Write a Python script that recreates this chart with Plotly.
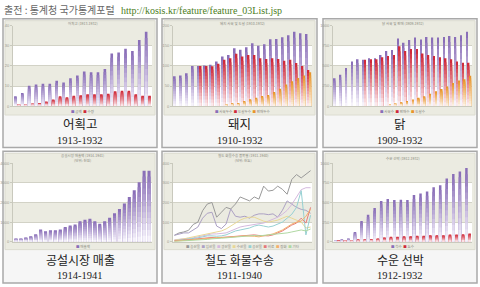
import plotly.graph_objects as go

W, H = 480, 287

# ---------------- data ----------------
# 1) 어획고 1913-1932
fish_years = list(range(1913, 1933))
fish_value = [4.9, 6.6, 10.2, 10.7, 11.1, 11.1, 12.6, 11.8, 13.8, 15.2,
              17.2, 16.9, 16.9, 18.5, 26.2, 26.7, 28.5, 27.4, 32.8, 36.9]
fish_catch = [1.1, 1.1, 1.3, 1.6, 2.3, 3.3, 4.9, 4.4, 5.2, 5.4,
              5.9, 5.9, 5.9, 6.2, 7.4, 7.7, 7.7, 5.9, 5.2, 5.2]

# 2) 돼지 1910-1932
pig_years = list(range(1910, 1933))
pig_a = [74, 76, 82, 100, 100, 101, 103, 111, 123, 127, 144, 140, 146, 156,
         150, 154, 166, 167, 171, 176, 185, 181, 179]
pig_b = [None, None, None, None, 100, 100, 99, 105, 115, 119, 130, 123, 127,
         127, 119, 117, 119, 117, 113, 115, 107, 100, 90]
pig_c = [None, None, None, None, None, None, None, None, 4, 7, 8, 13, 17, 21,
         25, 28, 35, 43, 54, 62, 70, 76, 84]

# 3) 닭 1909-1932
hen_years = list(range(1909, 1933))
hen_a = [348, 390, 473, 553, 583, 575, 595, 595, 635, 685, 698, 840, 788, 820,
         853, 828, 860, 853, 853, 860, 870, 860, 880, 923]
hen_b = [None, None, None, None, None, 575, 583, 583, 608, 623, 635, 745, 685,
         710, 710, 655, 635, 623, 608, 595, 583, 553, 540, 540]
hen_c = [None, None, None, None, None, None, None, None, None, 20, 33, 50, 63,
         83, 103, 123, 155, 185, 213, 245, 288, 320, 335, 378]

# 4) 공설시장 매출 1914-1941
mkt_years = list(range(1914, 1942))
mkt_sales = [170, 170, 220, 280, 380, 630, 530, 580, 580, 630, 750, 830, 880,
             1050, 1120, 1170, 1050, 920, 1050, 1220, 1450, 1670, 1950, 2280,
             2620, 3030, 3620, 3620]

# 5) 철도 화물수송 1911-1940
rail_years = list(range(1911, 1941))
rail_names = ["농산물", "임산물", "광산물", "수산물", "공산물", "비료", "잡화", "기타"]
rail_colors = ["#999999", "#aca1c4", "#d4b9de", "#e8d896", "#96d0d2",
               "#e47a7a", "#f3b06c", "#b0d8a2"]
rail_1 = [33, 45, 50, 58, 88, 100, 158, 192, 200, 125, 150, 175, 167, 192, 228,
          217, 208, 228, 217, 283, 258, 262, 283, 267, 242, 317, 342, 325, 345, 362]
rail_2 = [33, 40, 45, 45, 60, 75, 120, 145, 150, 80, 67, 90, 167, 130, 125, 130,
          120, 135, 142, 142, 138, 142, 125, 160, 208, 190, 175, 165, 160, 145]
rail_3 = [10, 12, 15, 18, 20, 25, 30, 35, 40, 40, 42, 45, 55, 65, 75, 80, 85, 90,
          92, 95, 105, 115, 125, 140, 160, 190, 230, 265, 275, 275]
rail_4 = [8, 10, 15, 20, 25, 30, 35, 40, 45, 50, 55, 65, 80, 95, 110, 120, 125,
          125, 115, 105, 100, 105, 110, 120, 130, 120, 110, 100, 70, 75]
rail_5 = [5, 8, 10, 12, 15, 20, 25, 30, 30, 28, 30, 35, 45, 55, 60, 65, 70, 80,
          85, 80, 75, 80, 90, 100, 120, 140, 175, 260, 35, 135]
rail_6 = [5, 6, 8, 10, 12, 15, 18, 20, 22, 20, 22, 25, 28, 30, 30, 32, 35, 35,
          32, 30, 30, 35, 45, 55, 70, 85, 95, 120, 95, 175]
rail_7 = [3, 5, 6, 8, 10, 12, 15, 18, 20, 20, 22, 22, 25, 25, 28, 30, 30, 28,
          25, 30, 35, 40, 50, 60, 75, 90, 100, 105, 130, 165]
rail_8 = [2, 3, 4, 5, 6, 8, 10, 12, 15, 15, 18, 20, 22, 25, 28, 30, 30, 32, 30,
          32, 35, 38, 40, 42, 45, 50, 55, 60, 55, 65]
rail_series = [rail_1, rail_2, rail_3, rail_4, rail_5, rail_6, rail_7, rail_8]

# 6) 수운 선박 1912-1932
ship_years = list(range(1912, 1933))
ship_a = [20, 30, 43, 125, 263, 345, 430, 520, 543, 530, 533, 530, 595, 613,
          638, 695, 720, 805, 863, 895, 938]
ship_b = [13, 20, 20, 30, 30, 33, 43, 55, 63, 63, 70, 70, 75, 75, 83, 83, 83,
          93, 93, 95, 105]

captions = ["어획고", "돼지", "닭", "공설시장 매출", "철도 화물수송", "수운 선박"]
periods = ["1913-1932", "1910-1932", "1909-1932", "1914-1941", "1911-1940", "1912-1932"]
mini_titles = [["어획고 (1913-1932)"], ["돼지 사육 및 도살 (1910-1932)"],
               ["닭 사육 및 판매 (1909-1932)"],
               ["공설시장 매출액 (1914-1941)", "(단위: 천원)"],
               ["철도 화물수송 품목별 (1911-1940)", "(단위: 천톤)"],
               ["수운 선박 (1912-1932)"]]
ysteps = [10, 50, 250, 1000, 100, 250]

PURPLE = ("#8a6fb8", "#f6f3fb")
RED = ("#cf2a3a", "#fbe9eb")
ORANGE = ("#e8952a", "#fcf1e2")

# ---------------- layout geometry (pixels) ----------------
col_plot = [(13, 152), (173, 312), (333, 472)]
row_plot = [(23, 105), (163, 243)]
col_img = [(5, 155), (164, 315), (325, 475)]
row_img = [(18, 114), (153, 251)]
col_box = [(3, 157), (162, 317), (323, 477)]
row_box = [(16, 147), (151, 285)]
row_cap = [(123, 140), (261.5, 277)]
cap_size = [12.5, 12]
row_leg = [110.5, 248]
row_title = [20.5, 158]

def fx(x):
    return x / W

def fy(y):
    return 1 - y / H

def hex2rgb(h):
    h = h.lstrip("#")
    return tuple(int(h[i:i + 2], 16) for i in (0, 2, 4))

def mix(c1, c2, t):
    a, b = hex2rgb(c1), hex2rgb(c2)
    return "rgb(%d,%d,%d)" % tuple(round(a[i] + (b[i] - a[i]) * t) for i in range(3))

fig = go.Figure()
NSTEP = 12

def grad_bars(idx, years, vals, colors, width, offset):
    ax = "" if idx == 1 else str(idx)
    for k in range(NSTEP):
        f = (NSTEP - k) / NSTEP
        col = mix(colors[0], colors[1], k / (NSTEP - 1))
        fig.add_trace(go.Bar(
            x=years, y=[None if v is None else v * f for v in vals],
            width=width, offset=offset,
            marker=dict(color=col, line=dict(width=0)),
            xaxis="x" + ax, yaxis="y" + ax, showlegend=False, hoverinfo="skip"))

grad_bars(1, fish_years, fish_value, PURPLE, 0.38, -0.44)
grad_bars(1, fish_years, fish_catch, RED, 0.38, 0.05)
grad_bars(2, pig_years, pig_a, PURPLE, 0.28, -0.44)
grad_bars(2, pig_years, pig_b, RED, 0.28, -0.13)
grad_bars(2, pig_years, pig_c, ORANGE, 0.28, 0.18)
grad_bars(3, hen_years, hen_a, PURPLE, 0.28, -0.44)
grad_bars(3, hen_years, hen_b, RED, 0.28, -0.13)
grad_bars(3, hen_years, hen_c, ORANGE, 0.28, 0.18)
grad_bars(4, mkt_years, mkt_sales, PURPLE, 0.62, -0.31)
grad_bars(6, ship_years, ship_a, PURPLE, 0.38, -0.44)
grad_bars(6, ship_years, ship_b, RED, 0.38, 0.05)

for s, c in zip(rail_series, rail_colors):
    fig.add_trace(go.Scatter(x=rail_years, y=s, mode="lines",
                             line=dict(color=c, width=1), xaxis="x5", yaxis="y5",
                             showlegend=False, hoverinfo="skip"))

year_sets = [fish_years, pig_years, hen_years, mkt_years, rail_years, ship_years]

shapes = []
annotations = []
layout = {}
for i in range(6):
    r, c = divmod(i, 3)
    n = i + 1
    ax = "" if n == 1 else str(n)
    yrs = year_sets[i]
    step = ysteps[i]
    if i == 4:
        xr = [yrs[0] - 0.3, yrs[-1] + 0.3]
    else:
        xr = [yrs[0] - 0.6, yrs[-1] + 0.6]
    layout["xaxis" + ax] = dict(
        domain=[fx(col_plot[c][0]), fx(col_plot[c][1])], anchor="y" + ax,
        range=xr, showgrid=False, zeroline=False, showline=True,
        linecolor="#c9c9bd", linewidth=1, showticklabels=False, ticks="")
    layout["yaxis" + ax] = dict(
        domain=[fy(row_plot[r][1]), fy(row_plot[r][0])], anchor="x" + ax,
        range=[0, 4 * step], dtick=step, showgrid=True, gridcolor="#d2d2c6",
        gridwidth=1, zeroline=False, showline=True, linecolor="#c9c9bd",
        linewidth=1, tickfont=dict(size=4, color="#9a9a90", family="Arial"),
        ticks="outside", ticklen=2, tickcolor="#c9c9bd")
    # box
    shapes.append(dict(type="rect", xref="paper", yref="paper", layer="below",
                       x0=fx(col_box[c][0]), x1=fx(col_box[c][1]),
                       y0=fy(row_box[r][1]), y1=fy(row_box[r][0]),
                       line=dict(color="#a9a9a9", width=1.5), fillcolor="#f6f6f6"))
    # chart image background
    shapes.append(dict(type="rect", xref="paper", yref="paper", layer="below",
                       x0=fx(col_img[c][0]), x1=fx(col_img[c][1]),
                       y0=fy(row_img[r][1]), y1=fy(row_img[r][0]),
                       line=dict(color="#dcdcd0", width=1), fillcolor="#ebebe1"))
    # white bands
    for b0 in (0, 2):
        shapes.append(dict(type="rect", xref="x" + ax + " domain", yref="y" + ax,
                           layer="below", x0=0, x1=1, y0=b0 * step, y1=(b0 + 1) * step,
                           line=dict(width=0), fillcolor="#ffffff"))
    cx = fx((col_box[c][0] + col_box[c][1]) / 2)
    annotations.append(dict(text=captions[i], x=cx, y=fy(row_cap[r][0]),
                            xanchor="center", yanchor="middle",
                            xref="paper", yref="paper", showarrow=False,
                            font=dict(family="Noto Sans CJK KR", size=cap_size[r],
                                      color="#222222")))
    annotations.append(dict(text=periods[i], x=cx, y=fy(row_cap[r][1]),
                            xanchor="center", yanchor="middle",
                            xref="paper", yref="paper", showarrow=False,
                            font=dict(family="Liberation Serif", size=10.5, color="#222222")))
    pcx = fx((col_plot[c][0] + col_plot[c][1]) / 2)
    annotations.append(dict(text="<br>".join(mini_titles[i]), x=pcx,
                            y=fy(row_title[r]), xanchor="center", yanchor="middle",
                            xref="paper", yref="paper", showarrow=False,
                            font=dict(family="Noto Sans CJK KR", size=3.5, color="#8a8a80")))

legend_items = [
    [("금액", PURPLE[0]), ("수량", RED[0])],
    [("사육두수", PURPLE[0]), ("도살두수", RED[0]), ("판매두수", ORANGE[0])],
    [("사육수", PURPLE[0]), ("판매수", RED[0]), ("도살수", ORANGE[0])],
    [("매출액", PURPLE[0])],
    list(zip(rail_names, rail_colors)),
    [("척수", PURPLE[0]), ("톤수", RED[0])],
]
for i, items in enumerate(legend_items):
    r, c = divmod(i, 3)
    txt = "  ".join("<span style='color:%s'>■</span> %s" % (col, nm) for nm, col in items)
    annotations.append(dict(text=txt, x=fx((col_plot[c][0] + col_plot[c][1]) / 2),
                            y=fy(row_leg[r]), xanchor="center", yanchor="middle",
                            xref="paper", yref="paper", showarrow=False,
                            font=dict(family="Noto Sans CJK KR", size=3.5, color="#8a8a80")))

# header
annotations.append(dict(text="출전 : 통계청 국가통계포털", x=fx(2), y=fy(7),
                        xanchor="left", yanchor="middle", xref="paper", yref="paper",
                        showarrow=False,
                        font=dict(family="Noto Sans CJK KR", size=10, color="#666666")))
annotations.append(dict(text="http://kosis.kr/feature/feature_03List.jsp", x=fx(119),
                        y=fy(7.5), xanchor="left", yanchor="middle", xref="paper",
                        yref="paper", showarrow=False,
                        font=dict(family="Liberation Serif", size=10, color="#4b7d22")))

fig.update_layout(width=W, height=H, margin=dict(l=0, r=0, t=0, b=0),
                  paper_bgcolor="#ffffff", plot_bgcolor="#e6e6da",
                  barmode="overlay", showlegend=False,
                  shapes=shapes, annotations=annotations, **layout)

fig.write_html("out.html")
